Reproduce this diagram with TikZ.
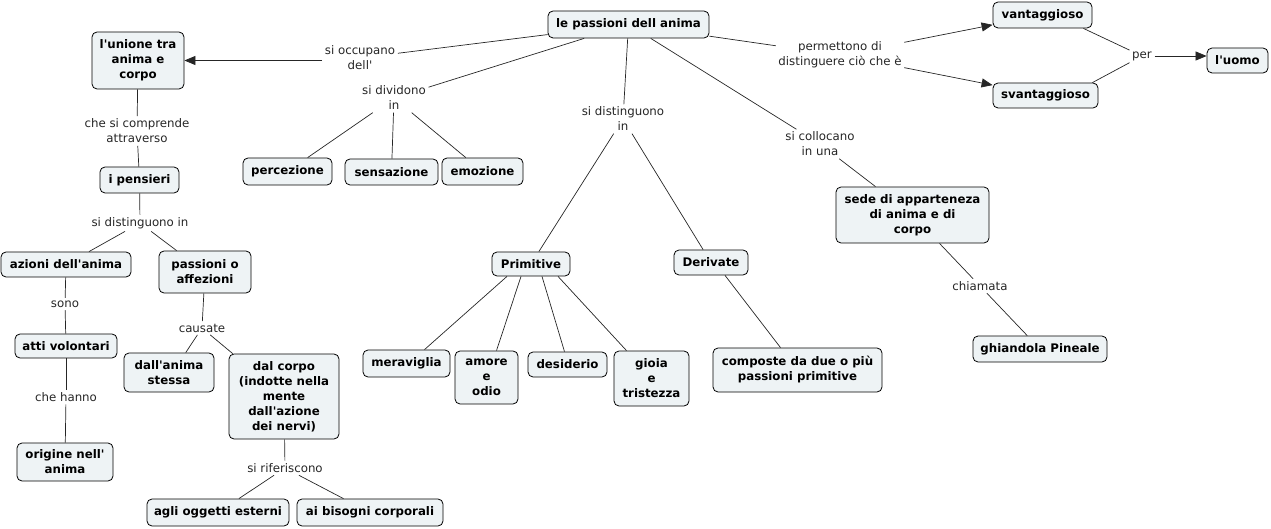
\documentclass[tikz,border=0pt]{standalone}
\usepackage{fontspec}
\setmainfont{DejaVu Sans}
\usetikzlibrary{arrows.meta}
\definecolor{cfill}{RGB}{238,243,245}
\newcommand{\ap}{\textquotesingle}
\begin{document}
\begin{tikzpicture}[x=1pt,y=-1pt,
  concept/.style={draw=black, line width=0.8pt, rounded corners=5pt, fill=cfill,
    font=\fontsize{11.8}{15}\selectfont\bfseries, align=center, inner sep=0pt},
  link/.style={font=\fontsize{11.8}{15}\selectfont, align=center, inner sep=2.5pt, text=black!85},
  conn/.style={draw=black!85, line width=0.7pt},
  arr/.style={conn, -{Triangle[length=11pt,width=9pt]}}]
\useasboundingbox (0,0) rectangle (1271,529);

% concepts
\node[concept, minimum width=161, minimum height=27] (main) at (628.5,24.5) {le passioni dell anima};
\node[concept, minimum width=92, minimum height=57] (unione) at (138,60.5) {l\ap unione tra\\anima e\\corpo};
\node[concept, minimum width=79, minimum height=26] (pens) at (139.5,180) {i pensieri};
\node[concept, minimum width=130, minimum height=25] (azioni) at (66,264.5) {azioni dell\ap anima};
\node[concept, minimum width=92, minimum height=42] (pass) at (205,272) {passioni o\\affezioni};
\node[concept, minimum width=102, minimum height=24] (atti) at (66,346) {atti volontari};
\node[concept, minimum width=96, minimum height=38] (orig) at (65,462) {origine nell\ap\\anima};
\node[concept, minimum width=90, minimum height=39] (dallan) at (169,372.5) {dall\ap anima\\stessa};
\node[concept, minimum width=110, minimum height=85] (dalcorpo) at (284,396.5) {dal corpo\\(indotte nella\\mente\\dall\ap azione\\dei nervi)};
\node[concept, minimum width=142, minimum height=27] (agli) at (218,512.5) {agli oggetti esterni};
\node[concept, minimum width=146, minimum height=27] (bis) at (370,512.5) {ai bisogni corporali};
\node[concept, minimum width=89, minimum height=27] (perc) at (287.5,171.5) {percezione};
\node[concept, minimum width=93, minimum height=26] (sens) at (391.5,172) {sensazione};
\node[concept, minimum width=81, minimum height=27] (emoz) at (482.5,171.5) {emozione};
\node[concept, minimum width=78, minimum height=24] (prim) at (531,264) {Primitive};
\node[concept, minimum width=74, minimum height=25] (deriv) at (711,262.5) {Derivate};
\node[concept, minimum width=87, minimum height=27] (merav) at (406.5,363.5) {meraviglia};
\node[concept, minimum width=63, minimum height=53] (amore) at (486.5,377.5) {amore\\e\\odio};
\node[concept, minimum width=79, minimum height=25] (desid) at (567.5,364.5) {desiderio};
\node[concept, minimum width=75, minimum height=55] (gioia) at (651.5,378.5) {gioia\\e\\tristezza};
\node[concept, minimum width=169, minimum height=44] (comp) at (797.5,370) {composte da due o più\\passioni primitive};
\node[concept, minimum width=153, minimum height=56] (sede) at (912.5,215) {sede di apparteneza\\di anima e di\\corpo};
\node[concept, minimum width=134, minimum height=26] (ghian) at (1040,349) {ghiandola Pineale};
\node[concept, minimum width=99, minimum height=26] (vant) at (1042.5,15) {vantaggioso};
\node[concept, minimum width=105, minimum height=25] (svant) at (1045.5,95.5) {svantaggioso};
\node[concept, minimum width=61, minimum height=25] (uomo) at (1237.5,60.5) {l\ap uomo};

% linking phrases
\node[link] (occ) at (360,58) {si occupano\\dell\ap};
\node[link] (div) at (394,98) {si dividono\\in};
\node[link] (dist) at (623,119) {si distinguono\\in};
\node[link] (perm) at (840,55) {permettono di\\distinguere ciò che è};
\node[link] (coll) at (820,144) {si collocano\\in una};
\node[link] (per) at (1142,56) {per};
\node[link] (chiam) at (980,286) {chiamata};
\node[link] (compr) at (137,131) {che si comprende\\attraverso};
\node[link] (distin) at (140,223) {si distinguono in};
\node[link] (sono) at (65,304) {sono};
\node[link] (hanno) at (66,397) {che hanno};
\node[link] (caus) at (202,328) {causate};
\node[link] (rif) at (285,468) {si riferiscono};

% connectors
\draw[conn] (main) -- (occ);
\draw[arr] (occ.west |- unione.east) -- (unione.east);
\draw[conn] (main) -- (div);
\draw[conn] (div) -- (perc);
\draw[conn] (div) -- (sens);
\draw[conn] (div) -- (emoz);
\draw[conn] (main) -- (dist);
\draw[conn] (dist) -- (prim);
\draw[conn] (dist) -- (deriv);
\draw[conn] ([xshift=-24pt]prim.south) -- ([xshift=18pt]merav.north);
\draw[conn] ([xshift=-10pt]prim.south) -- ([xshift=10pt]amore.north);
\draw[conn] ([xshift=11pt]prim.south) -- ([xshift=-3pt]desid.north);
\draw[conn] ([xshift=27pt]prim.south) -- ([xshift=-25pt]gioia.north);
\draw[conn] ([xshift=14pt]deriv.south) -- ([xshift=-17pt]comp.north);
\draw[conn] (main) -- (coll);
\draw[conn] (coll) -- (sede);
\draw[conn] (sede) -- (chiam);
\draw[conn] (chiam) -- (ghian);
\draw[conn] (main) -- (perm);
\draw[arr] (perm) -- (vant);
\draw[arr] (perm) -- (svant);
\draw[conn] ([xshift=-9pt]vant.south east) -- (per);
\draw[conn] ([xshift=-6pt]svant.north east) -- (per);
\draw[arr] (per) -- (uomo.west |- per.east);
\draw[conn] (unione) -- (compr);
\draw[conn] (compr) -- (pens);
\draw[conn] (pens) -- (distin);
\draw[conn] (distin) -- (azioni);
\draw[conn] (distin) -- (pass);
\draw[conn] (azioni) -- (sono);
\draw[conn] (sono) -- (atti);
\draw[conn] (atti) -- (hanno);
\draw[conn] (hanno) -- (orig);
\draw[conn] (pass) -- (caus);
\draw[conn] (caus) -- (dallan.50);
\draw[conn] (caus) -- (dalcorpo);
\draw[conn] (dalcorpo) -- (rif);
\draw[conn] (rif) -- (agli);
\draw[conn] (rif) -- (bis);
\end{tikzpicture}
\end{document}
